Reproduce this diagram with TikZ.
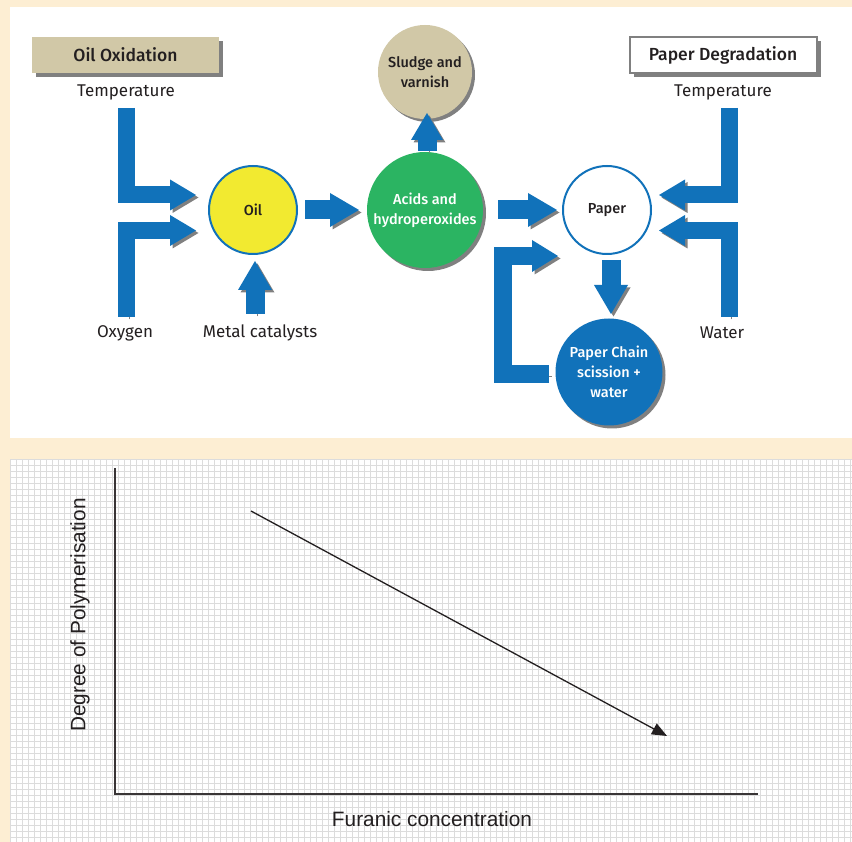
\documentclass[tikz,border=0pt]{standalone}
\usepackage{fontspec}
\setmainfont{Fira Sans}[BoldFont={Fira Sans Medium}]
\newfontfamily\axisfont{Liberation Sans}
\usetikzlibrary{arrows.meta,calc}
\definecolor{cream}{RGB}{253,238,211}
\definecolor{arrowblue}{RGB}{17,114,186}
\definecolor{oilyellow}{RGB}{242,234,48}
\definecolor{acidgreen}{RGB}{43,180,98}
\definecolor{tan}{RGB}{209,200,167}
\definecolor{shadowgray}{RGB}{128,128,128}
\definecolor{txt}{RGB}{35,31,32}
\definecolor{gridgray}{RGB}{220,220,220}
\tikzset{
  fat/.style={draw=arrowblue, line width=19pt, line join=miter, line cap=butt,
    -{Triangle[length=29pt,width=34pt,line width=0pt]},
    preaction={draw=shadowgray, transform canvas={shift={(2.5pt,-2.5pt)}}}},
  fatthin/.style={fat, line width=17pt, -{Triangle[length=26pt,width=31pt,line width=0pt]}},
  shade/.style={preaction={fill=shadowgray, transform canvas={shift={(3pt,-3pt)}}}},
  bubble/.style={circle, inner sep=0pt, align=center, font=\bfseries\fontsize{14.5}{20}\selectfont},
  head/.style={minimum width=187pt, minimum height=36pt, inner sep=0pt,
    font=\bfseries\fontsize{17.5}{20}\selectfont, text=txt,
    preaction={fill=shadowgray, transform canvas={shift={(4pt,-4pt)}}}},
  lbl/.style={font=\fontsize{17}{20}\selectfont, text=txt, inner sep=0pt},
  axislbl/.style={font=\axisfont\fontsize{20.8}{24}\selectfont, text=txt, inner sep=0pt}
}
\begin{document}
\begin{tikzpicture}[x=1pt,y=-1pt]
\useasboundingbox (0,0) rectangle (852,842);
% backgrounds
\fill[cream] (0,0) rectangle (852,842);
\fill[white] (10,7) rectangle (852,438);
\fill[white] (10,459) rectangle (852,842);
\begin{scope}
\clip (10,459) rectangle (852,842);
\foreach \i in {0,...,141} \draw[gridgray, line width=0.9pt] ({10+6*\i},459) -- ({10+6*\i},842);
\foreach \j in {0,...,64} \draw[gridgray, line width=0.9pt] (10,{459+6*\j}) -- (852,{459+6*\j});
\end{scope}

% header boxes
\node[head, fill=tan] (oilox) at (125.5,55) {Oil Oxidation};
\node[head, fill=white, draw=shadowgray, line width=2pt] (paperdeg) at (723,55) {Paper Degradation};

% labels
\node[lbl] (tempL) at (126,92) {Temperature};
\node[lbl] (tempR) at (723,92) {Temperature};
\node[lbl] (oxy) at (125,333) {Oxygen};
\node[lbl] (metal) at (260,333) {Metal catalysts};
\node[lbl] (water) at (722,333) {Water};

% circles
\node[bubble, minimum size=88pt, fill=oilyellow, draw=arrowblue, line width=2pt, text=txt] (oil) at (253,210) {Oil};
\node[bubble, minimum size=116pt, fill=acidgreen, shade, text=white] (acids) at (425,210) {Acids and\\hydroperoxides};
\node[bubble, minimum size=94pt, fill=tan, shade, text=txt] (sludge) at (425,72) {Sludge and\\varnish};
\node[bubble, minimum size=88pt, fill=white, draw=arrowblue, line width=2pt, text=txt] (paper) at (607,210) {Paper};
\node[bubble, minimum size=107pt, fill=arrowblue, shade, text=white] (chain) at (609,372) {Paper Chain\\scission +\\water};

% arrow end coordinates
\coordinate (tL1) at (126.5,108);
\coordinate (tL2) at (196,195);
\coordinate (oL1) at (126.5,317);
\coordinate (oL2) at (196,230.5);
\coordinate (m1) at (255,314);
\coordinate (m2) at (255,261);
\coordinate (tR1) at (729,108);
\coordinate (tR2) at (659,195);
\coordinate (wR1) at (729,317);
\coordinate (wR2) at (659,230.5);
\coordinate (oa1) at (305,210);
\coordinate (oa2) at (359,210);
\coordinate (as1) at (427,151);
\coordinate (as2) at (427,113);
\coordinate (ap1) at (498,210);
\coordinate (ap2) at (557,210);
\coordinate (pc1) at (611,260);
\coordinate (pc2) at (611,314);
\coordinate (fb1) at (549,374);
\coordinate (fb2) at (558,256);

\draw[fatthin] (tL1) |- (tL2);
\draw[fatthin] (oL1) |- (oL2);
\draw[fat] (m1) -- (m2);
\draw[fat] (oa1) -- (oa2);
\draw[fat, -{Triangle[length=27pt,width=32pt,line width=0pt]}] (as1) -- (as2);
\draw[fat] (ap1) -- (ap2);
\draw[fat] (pc1) -- (pc2);
\draw[fatthin] (tR1) |- (tR2);
\draw[fatthin] (wR1) |- (wR2);
\draw[fat, line width=18pt, -{Triangle[length=26pt,width=32pt,line width=0pt]}] (fb1) -- (503,374) -- (503,256) -- (fb2);

% graph
\coordinate (ytop) at (115,468);
\coordinate (origin) at (115,794);
\coordinate (xend) at (758,794);
\coordinate (trS) at (251,511);
\coordinate (trE) at (667,736);
\draw[txt!90, line width=1.4pt] (ytop) -- (origin) -- (xend);
\draw[txt, line width=1.3pt, -{Triangle[length=15pt,width=12pt]}] (trS) -- (trE);
\node[axislbl, rotate=90] (ylab) at (80,615) {Degree of Polymerisation};
\node[axislbl] (xlab) at (432,819) {Furanic concentration};
\end{tikzpicture}
\end{document}
